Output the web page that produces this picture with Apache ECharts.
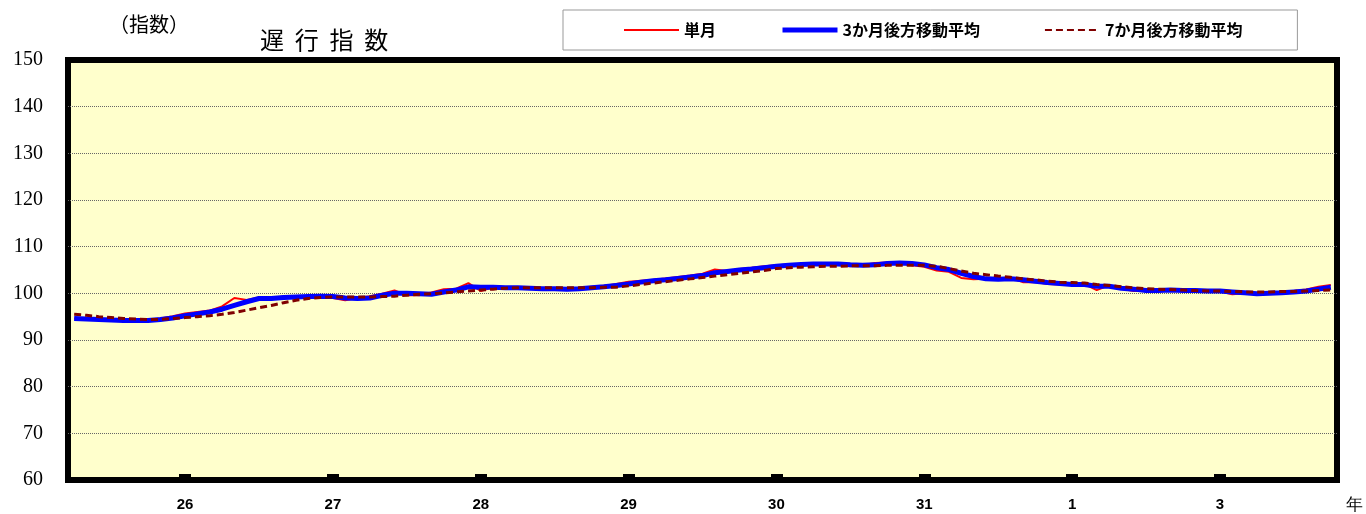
<!DOCTYPE html>
<html>
<head>
<meta charset="utf-8">
<script src="https://cdn.jsdelivr.net/npm/echarts@6/dist/echarts.min.js"></script>
<style>
    html, body {margin: 0; padding: 0; background: #fff;}
    #chart {width: 1366px; height: 514px;}
</style>
</head>
<body>
<div id="chart"></div>
<script>
// 単月
var single = [94.6, 94.5, 94.4, 94.3, 94.2, 94.1, 94.3, 94.6, 95.1, 95.7,
    96.0, 96.3, 97.2, 99.0, 98.6, 99.1, 99.0, 99.3, 99.2, 99.3,
    99.6, 99.0, 98.5, 99.0, 99.4, 99.9, 100.6, 99.6, 99.6, 100.2,
    100.9, 101.0, 102.2, 100.5, 101.3, 101.2, 101.0, 101.2, 100.7, 101.0,
    101.0, 101.1, 101.4, 101.6, 102.0, 102.5, 102.7, 102.9, 103.2, 103.5,
    103.8, 104.2, 105.1, 104.8, 105.2, 105.5, 105.8, 106.0, 106.2, 106.3,
    106.3, 106.3, 106.2, 105.8, 106.0, 106.5, 106.6, 106.5, 106.0, 105.7,
    104.9, 104.6, 103.3, 103.0, 103.1, 102.9, 103.3, 102.4, 102.4, 102.0,
    101.9, 101.9, 102.0, 100.7, 101.7, 101.0, 100.5, 100.5, 100.7, 100.8,
    100.5, 100.5, 100.6, 100.4, 99.8, 100.0, 100.0, 100.1, 100.3, 100.5,
    100.8, 101.4, 101.8];

// 3か月後方移動平均
var avg3 = [94.6, 94.5, 94.4, 94.3, 94.2, 94.2, 94.2, 94.4, 94.7, 95.2,
    95.6, 96.0, 96.6, 97.4, 98.2, 98.9, 98.9, 99.1, 99.2, 99.3,
    99.4, 99.3, 99.0, 98.9, 99.0, 99.6, 100.0, 100.0, 99.9, 99.8,
    100.3, 100.7, 101.4, 101.3, 101.3, 101.2, 101.2, 101.1, 101.0, 101.0,
    100.9, 101.0, 101.2, 101.4, 101.7, 102.0, 102.4, 102.7, 102.9, 103.2,
    103.5, 103.8, 104.4, 104.7, 105.0, 105.2, 105.5, 105.8, 106.0, 106.2,
    106.3, 106.3, 106.3, 106.1, 106.0, 106.1, 106.4, 106.5, 106.4, 106.1,
    105.5, 105.1, 104.3, 103.6, 103.1, 103.0, 103.1, 102.9, 102.6, 102.3,
    102.1, 101.9, 101.9, 101.5, 101.5, 101.1, 100.9, 100.6, 100.6, 100.7,
    100.6, 100.6, 100.5, 100.5, 100.3, 100.1, 99.9, 100.0, 100.1, 100.3,
    100.5, 100.9, 101.3];

// 7か月後方移動平均
var avg7 = [95.5, 95.3, 95.0, 94.8, 94.6, 94.5, 94.4, 94.4, 94.6, 94.8,
    95.0, 95.2, 95.5, 95.9, 96.4, 96.9, 97.4, 98.0, 98.5, 98.9,
    99.1, 99.2, 99.2, 99.2, 99.2, 99.3, 99.4, 99.6, 99.8, 99.9,
    100.1, 100.3, 100.5, 100.7, 100.9, 101.1, 101.2, 101.2, 101.2, 101.2,
    101.2, 101.2, 101.2, 101.3, 101.3, 101.6, 101.9, 102.2, 102.5, 102.8,
    103.1, 103.4, 103.7, 104.0, 104.3, 104.6, 104.9, 105.3, 105.5, 105.6,
    105.7, 105.8, 105.8, 105.9, 105.9, 105.9, 106.0, 106.0, 106.0, 106.0,
    105.8, 105.3, 104.8, 104.3, 104.0, 103.7, 103.45, 103.1, 102.9, 102.6,
    102.4, 102.3, 102.2, 101.9, 101.7, 101.4, 101.2, 101.0, 100.9, 100.8,
    100.7, 100.6, 100.5, 100.5, 100.4, 100.3, 100.3, 100.3, 100.4, 100.4,
    100.5, 100.6, 100.7];

// 年の目盛り
var tickIndex = [9, 21, 33, 45, 57, 69, 81, 93];
var tickText = ['26', '27', '28', '29', '30', '31', '1', '3'];

var months = single.map(function (v, i) { return String(i); });

function isTick(index) {
    return tickIndex.indexOf(index) >= 0;
}

var myChart = echarts.init(document.getElementById('chart'), null, {renderer: 'canvas'});

var option = {
    backgroundColor: '#fff',
    animation: false,
    title: [
        {
            text: '（指数）',
            left: 104,
            top: 9,
            textStyle: {fontFamily: 'Noto Sans CJK JP', fontSize: 20, fontWeight: 'normal', color: '#000'}
        },
        {
            text: '遅  行  指  数',
            left: 255,
            top: 23,
            textStyle: {fontFamily: 'Noto Sans CJK JP', fontSize: 24, fontWeight: 'normal', color: '#000'}
        }
    ],
    legend: {
        left: 563,
        top: 10,
        padding: [12, 55, 12, 60],
        itemGap: 64,
        itemWidth: 55,
        itemHeight: 14,
        backgroundColor: '#fff',
        borderColor: '#999',
        borderWidth: 1,
        itemStyle: {opacity: 0},
        textStyle: {fontFamily: 'Noto Sans CJK JP', fontSize: 16, fontWeight: 'bold', color: '#000'},
        data: [
            {name: '単月', lineStyle: {width: 2}},
            {name: '3か月後方移動平均', lineStyle: {width: 5}},
            {name: '7か月後方移動平均', lineStyle: {width: 2}}
        ]
    },
    grid: {
        left: 68,
        right: 27,
        top: 60,
        bottom: 30,
        show: true,
        backgroundColor: '#ffffcc',
        borderColor: '#000',
        borderWidth: 6
    },
    xAxis: {
        type: 'category',
        data: months,
        boundaryGap: true,
        name: '年',
        nameLocation: 'end',
        nameGap: 9,
        nameTextStyle: {
            fontFamily: 'Liberation Serif', fontSize: 17, color: '#000',
            verticalAlign: 'top', padding: [17, 0, 0, 0]
        },
        axisLine: {show: false},
        axisTick: {
            show: true,
            inside: true,
            alignWithLabel: true,
            length: 6,
            interval: function (index) { return isTick(index); },
            lineStyle: {color: '#000', width: 12}
        },
        axisLabel: {
            interval: function (index) { return isTick(index); },
            formatter: function (value, index) {
                var k = tickIndex.indexOf(index);
                return k >= 0 ? tickText[k] : '';
            },
            margin: 17,
            fontFamily: 'Liberation Sans',
            fontWeight: 'bold',
            fontSize: 15,
            color: '#000'
        },
        splitLine: {show: false}
    },
    yAxis: {
        type: 'value',
        min: 60,
        max: 150,
        interval: 10,
        axisLine: {show: false},
        axisTick: {show: false},
        axisLabel: {
            margin: 25,
            fontFamily: 'Liberation Serif',
            fontSize: 20,
            color: '#000'
        },
        splitLine: {
            show: true,
            showMinLine: false,
            showMaxLine: false,
            lineStyle: {color: '#666', type: 'dotted', width: 1}
        }
    },
    series: [
        {
            name: '単月',
            type: 'line',
            data: single,
            symbol: 'none',
            lineStyle: {color: '#ff0000', width: 2},
            itemStyle: {color: '#ff0000'}
        },
        {
            name: '3か月後方移動平均',
            type: 'line',
            data: avg3,
            symbol: 'none',
            lineStyle: {color: '#0000ff', width: 5},
            itemStyle: {color: '#0000ff'}
        },
        {
            name: '7か月後方移動平均',
            type: 'line',
            data: avg7,
            symbol: 'none',
            lineStyle: {color: '#800000', width: 3, type: [7, 4]},
            itemStyle: {color: '#800000'}
        }
    ]
};

myChart.setOption(option);
</script>
</body>
</html>
